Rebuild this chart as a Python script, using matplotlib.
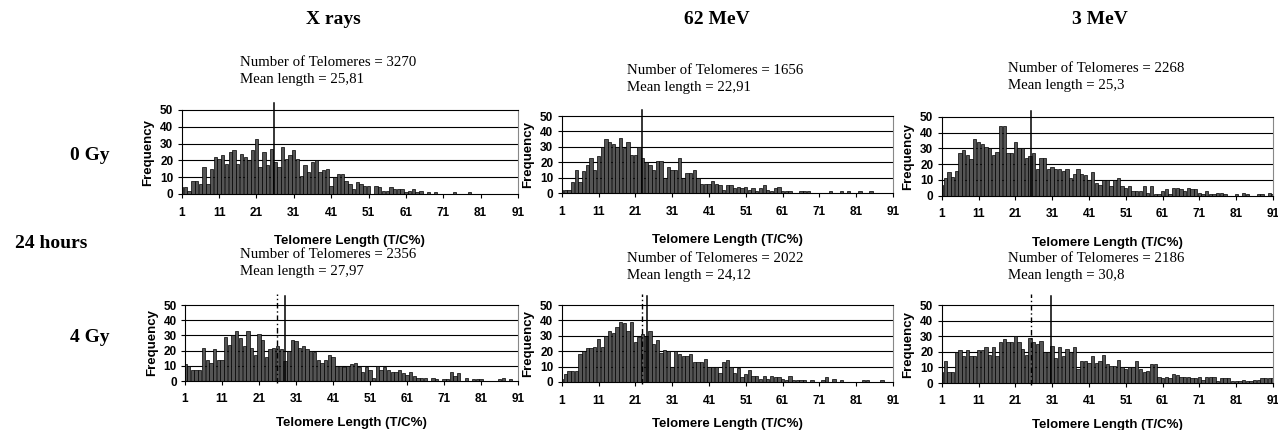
import matplotlib
matplotlib.use('Agg')
import matplotlib.pyplot as plt
import numpy as np

# telomere length classes (T/C%)
lengths = np.arange(1, 92)

# frequencies
xrays_0gy = [4, 4, 2, 8, 8, 6, 16, 6, 15, 22, 21, 23, 18, 25, 26, 18, 24, 22, 20, 26,
             33, 16, 25, 17, 27, 19, 16, 28, 21, 23, 26, 21, 11, 17, 13, 19, 20, 13, 14, 15,
             5, 10, 12, 12, 8, 6, 3, 7, 6, 5, 5, 0, 5, 4, 2, 2, 4, 3, 3, 3,
             1, 2, 3, 1, 2, 0, 1, 0, 1, 0, 0, 0, 0, 1, 0, 0, 0, 1, 0, 0,
             0, 0, 0, 0, 0, 0, 0, 0, 0, 0, 0]
mev62_0gy = [2, 2, 2, 7, 15, 7, 14, 18, 23, 15, 24, 30, 35, 33, 32, 30, 36, 29, 33, 25,
             25, 30, 23, 20, 18, 15, 21, 21, 10, 17, 15, 15, 23, 10, 13, 13, 15, 10, 6, 6,
             6, 8, 6, 5, 2, 5, 5, 3, 4, 3, 4, 2, 3, 1, 3, 5, 2, 1, 3, 4,
             1, 1, 1, 0, 0, 1, 1, 1, 0, 0, 0, 0, 0, 1, 0, 0, 1, 0, 1, 0,
             0, 1, 0, 0, 1, 0, 0, 0, 0, 0, 0]
mev3_0gy = [7, 11, 15, 12, 16, 27, 29, 26, 23, 36, 34, 33, 31, 30, 26, 28, 44, 44, 27, 27,
            34, 30, 30, 24, 25, 27, 17, 24, 24, 17, 18, 17, 17, 16, 17, 11, 14, 17, 14, 13,
            10, 15, 8, 7, 10, 10, 6, 10, 11, 6, 5, 6, 3, 3, 3, 6, 2, 6, 1, 1,
            3, 4, 1, 5, 5, 4, 3, 5, 4, 4, 2, 1, 3, 1, 1, 2, 2, 1, 0, 0,
            1, 0, 2, 1, 0, 0, 1, 1, 0, 2, 1]
xrays_4gy = [11, 10, 7, 7, 7, 22, 14, 12, 21, 14, 14, 29, 24, 30, 33, 28, 23, 33, 22, 17,
             31, 27, 16, 21, 22, 23, 21, 13, 20, 27, 26, 22, 23, 21, 20, 19, 14, 12, 14, 17,
             16, 10, 10, 9, 10, 11, 12, 9, 6, 9, 7, 2, 10, 7, 9, 7, 6, 6, 7, 5,
             4, 6, 3, 2, 2, 2, 0, 2, 1, 0, 1, 1, 6, 3, 5, 0, 2, 0, 1, 1,
             1, 0, 0, 0, 0, 1, 2, 0, 1, 0, 0]
mev62_4gy = [2, 5, 7, 7, 7, 18, 20, 22, 22, 23, 28, 23, 30, 33, 32, 36, 39, 38, 33, 39,
             26, 29, 31, 30, 33, 25, 27, 19, 21, 20, 10, 20, 18, 17, 17, 18, 13, 13, 13, 15,
             10, 10, 10, 6, 13, 14, 10, 6, 9, 3, 5, 8, 4, 4, 2, 4, 2, 4, 3, 3,
             2, 1, 4, 1, 1, 1, 1, 0, 1, 0, 0, 1, 3, 0, 2, 0, 1, 0, 0, 0,
             0, 0, 1, 1, 0, 0, 0, 1, 0, 0, 0]
mev3_4gy = [7, 14, 7, 7, 20, 21, 17, 21, 17, 17, 21, 21, 23, 18, 23, 17, 26, 28, 26, 26,
            30, 26, 22, 18, 29, 26, 25, 27, 20, 20, 24, 16, 23, 17, 22, 20, 23, 9, 14, 14,
            13, 17, 13, 14, 18, 12, 11, 11, 15, 10, 9, 10, 10, 14, 9, 7, 8, 12, 12, 4,
            3, 4, 3, 6, 5, 4, 4, 4, 3, 3, 4, 2, 4, 4, 4, 1, 3, 3, 3, 1,
            1, 1, 2, 1, 1, 2, 2, 3, 3, 3, 3]

col_titles = ['X rays', '62 MeV', '3 MeV']
counts_0gy = [3270, 1656, 2268]
means_0gy = ['25,81', '22,91', '25,3']
counts_4gy = [2356, 2022, 2186]
means_4gy = ['27,97', '24,12', '30,8']
mean_0gy_val = [25.81, 22.91, 25.3]
mean_4gy_val = [27.97, 24.12, 30.8]

W, H = 1278, 430
SERIF = 'Liberation Serif'
SANS = 'Liberation Sans'

fig = plt.figure(figsize=(W / 100, H / 100), dpi=100)


def box(l, r, t, b):
    return [l / W, 1 - b / H, (r - l) / W, (b - t) / H]


def px(x, y):
    return x / W, 1 - y / H


def draw_hist(rect, values, mean_line, prev_mean=None, top_ext=54, xpad=13):
    ax = fig.add_axes(rect)
    for g in [10, 20, 30, 40]:
        ax.axhline(g, color='black', lw=0.8, zorder=0)
    ax.bar(lengths, values, width=0.9, color='#555555', edgecolor='black',
           linewidth=0.5, zorder=2)
    ax.set_xlim(1, 91)
    ax.set_ylim(0, 50)
    ax.set_xticks(np.arange(1, 92, 10))
    ax.set_yticks(np.arange(0, 51, 10))
    ax.tick_params(axis='both', direction='out', length=3, width=0.8,
                   labelsize=8.5, pad=3)
    ax.tick_params(axis='x', pad=6)
    for lab in ax.get_xticklabels() + ax.get_yticklabels():
        lab.set_fontweight('bold')
        lab.set_fontfamily(SANS)
    ax.spines['left'].set_color('black')
    ax.spines['bottom'].set_color('black')
    ax.spines['top'].set_color('black')
    ax.spines['top'].set_linewidth(0.8)
    ax.spines['right'].set_color('#888888')
    ax.set_ylabel('Frequency', fontsize=9.5, fontweight='bold', family=SANS, labelpad=4)
    ax.set_xlabel('Telomere Length (T/C%)', fontsize=9.5, fontweight='bold',
                  family=SANS, labelpad=xpad)
    ax.plot([mean_line, mean_line], [0, top_ext], color='black', lw=1.1,
            clip_on=False, zorder=3)
    if prev_mean is not None:
        ax.plot([prev_mean, prev_mean], [-1, top_ext + 1], color='black', lw=1.0,
                ls=(0, (4, 2, 1, 2)), clip_on=False, zorder=3)
    return ax


top_boxes = [box(181.7, 518, 110, 194), box(561.7, 893, 116, 193), box(941.7, 1273, 117, 195.7)]
bot_boxes = [box(185, 518, 305, 381), box(561.7, 893, 305, 382), box(941.7, 1273, 305, 383)]
top_data = [xrays_0gy, mev62_0gy, mev3_0gy]
bot_data = [xrays_4gy, mev62_4gy, mev3_4gy]

for i in range(3):
    draw_hist(top_boxes[i], top_data[i], mean_0gy_val[i], xpad=12)
    draw_hist(bot_boxes[i], bot_data[i], mean_4gy_val[i], prev_mean=mean_0gy_val[i],
              top_ext=56, xpad=8)

# column titles
title_x = [333, 717, 1100]
for i in range(3):
    fig.text(*px(title_x[i], 20), col_titles[i], ha='center', va='center',
             fontsize=14, fontweight='bold', family=SERIF)

# annotation boxes
top_txt = [(240, 63), (627, 70), (1008, 68)]
bot_txt = [(240, 254), (627, 258), (1008, 258)]
for i in range(3):
    x, y = top_txt[i]
    fig.text(*px(x, y), 'Number of Telomeres = %d' % counts_0gy[i], ha='left', va='center',
             fontsize=10.7, family=SERIF)
    fig.text(*px(x, y + 17), 'Mean length = %s' % means_0gy[i], ha='left', va='center',
             fontsize=10.7, family=SERIF)
    x, y = bot_txt[i]
    fig.text(*px(x, y), 'Number of Telomeres = %d' % counts_4gy[i], ha='left', va='center',
             fontsize=10.7, family=SERIF)
    fig.text(*px(x, y + 17), 'Mean length = %s' % means_4gy[i], ha='left', va='center',
             fontsize=10.7, family=SERIF)

# row labels
fig.text(*px(90, 155), '0 Gy', ha='center', va='center', fontsize=14,
         fontweight='bold', family=SERIF)
fig.text(*px(51, 243), '24 hours', ha='center', va='center', fontsize=14,
         fontweight='bold', family=SERIF)
fig.text(*px(90, 338), '4 Gy', ha='center', va='center', fontsize=14,
         fontweight='bold', family=SERIF)

fig.savefig('out.png', dpi=100)
